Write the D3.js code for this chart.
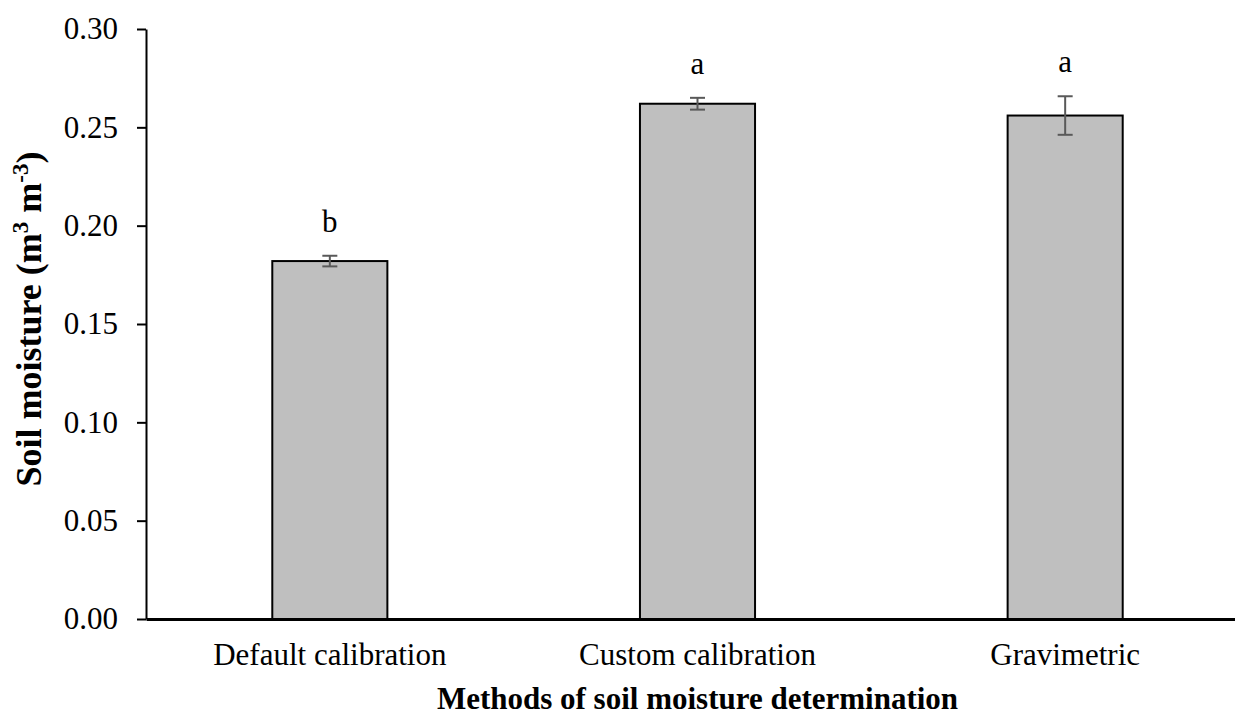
<!DOCTYPE html>
<html>
<head>
<meta charset="utf-8">
<script src="https://cdn.jsdelivr.net/npm/d3@7"></script>
<style>
  body { margin: 0; background: #fff; }
  svg text { font-family: "Liberation Serif", "Times New Roman", serif; fill: #000; }
</style>
</head>
<body>
<div id="chart"></div>
<script>
// Data
const categories = ["Default calibration", "Custom calibration", "Gravimetric"];
const means = [0.182, 0.262, 0.256];
const errors = [0.0027, 0.003, 0.0098];
const letters = ["b", "a", "a"];
const yTicks = [0, 0.05, 0.10, 0.15, 0.20, 0.25, 0.30];

const width = 1235;
const height = 715;
const plot = { left: 146, right: 1249, top: 29, bottom: 619 };

const svg = d3.select("#chart")
    .append("svg")
    .attr("width", width)
    .attr("height", height);

// Scales
const x = d3.scaleBand()
    .domain(categories)
    .range([plot.left, plot.right])
    .paddingInner(0.687)
    .paddingOuter(0.3435);

const y = d3.scaleLinear()
    .domain([0, 0.30])
    .range([plot.bottom, plot.top]);

const rows = categories.map((c, i) => ({ cat: c, mean: means[i], err: errors[i], letter: letters[i] }));

// Bars
svg.selectAll(".bar")
    .data(rows)
    .enter()
    .append("rect")
    .attr("class", "bar")
    .attr("x", d => x(d.cat))
    .attr("y", d => y(d.mean))
    .attr("width", x.bandwidth())
    .attr("height", d => y(0) - y(d.mean))
    .attr("fill", "#bfbfbf")
    .attr("stroke", "#000")
    .attr("stroke-width", 2);

// Error bars
const cap = 7.5;
const eb = svg.selectAll(".errbar")
    .data(rows)
    .enter()
    .append("g")
    .attr("class", "errbar")
    .attr("stroke", "#595959")
    .attr("stroke-width", 2);

eb.append("line")
    .attr("x1", d => x(d.cat) + x.bandwidth() / 2)
    .attr("x2", d => x(d.cat) + x.bandwidth() / 2)
    .attr("y1", d => y(d.mean - d.err))
    .attr("y2", d => y(d.mean + d.err));
eb.append("line")
    .attr("x1", d => x(d.cat) + x.bandwidth() / 2 - cap)
    .attr("x2", d => x(d.cat) + x.bandwidth() / 2 + cap)
    .attr("y1", d => y(d.mean + d.err))
    .attr("y2", d => y(d.mean + d.err));
eb.append("line")
    .attr("x1", d => x(d.cat) + x.bandwidth() / 2 - cap)
    .attr("x2", d => x(d.cat) + x.bandwidth() / 2 + cap)
    .attr("y1", d => y(d.mean - d.err))
    .attr("y2", d => y(d.mean - d.err));

// Significance letters
svg.selectAll(".letter")
    .data(rows)
    .enter()
    .append("text")
    .attr("class", "letter")
    .attr("x", d => x(d.cat) + x.bandwidth() / 2)
    .attr("y", d => y(d.mean + d.err) - 24)
    .attr("text-anchor", "middle")
    .style("font-size", "31px")
    .text(d => d.letter);

// Y axis
const yAxis = svg.append("g")
    .attr("transform", "translate(" + plot.left + ",0)")
    .call(d3.axisLeft(y).tickValues(yTicks).tickFormat(d3.format(".2f")).tickSize(9).tickPadding(19).tickSizeOuter(0));
yAxis.select(".domain").attr("stroke", "#000").attr("stroke-width", 2);
yAxis.selectAll(".tick line").attr("stroke", "#000").attr("stroke-width", 2);
yAxis.selectAll(".tick text").style("font-size", "31px").attr("font-family", null);

// X axis
const xAxis = svg.append("g")
    .attr("transform", "translate(0," + plot.bottom + ")")
    .call(d3.axisBottom(x).tickSize(0).tickSizeOuter(0));
xAxis.select(".domain").attr("stroke", "#000").attr("stroke-width", 3);
xAxis.selectAll(".tick text")
    .attr("y", 46)
    .attr("dy", 0)
    .style("font-size", "31px")
    .attr("font-family", null);

// Axis titles
svg.append("text")
    .attr("x", (plot.left + plot.right) / 2)
    .attr("y", 709)
    .attr("text-anchor", "middle")
    .style("font-size", "31px")
    .style("font-weight", "bold")
    .text("Methods of soil moisture determination");

const yTitle = svg.append("text")
    .attr("transform", "translate(41," + 319 + ") rotate(-90)")
    .attr("text-anchor", "middle")
    .style("font-size", "36px")
    .style("font-weight", "bold");
yTitle.append("tspan").text("Soil moisture (m");
yTitle.append("tspan").attr("dy", -13).style("font-size", "23px").text("3");
yTitle.append("tspan").attr("dy", 13).text(" m");
yTitle.append("tspan").attr("dy", -13).style("font-size", "23px").text("-3");
yTitle.append("tspan").attr("dy", 13).text(")");
</script>
</body>
</html>
